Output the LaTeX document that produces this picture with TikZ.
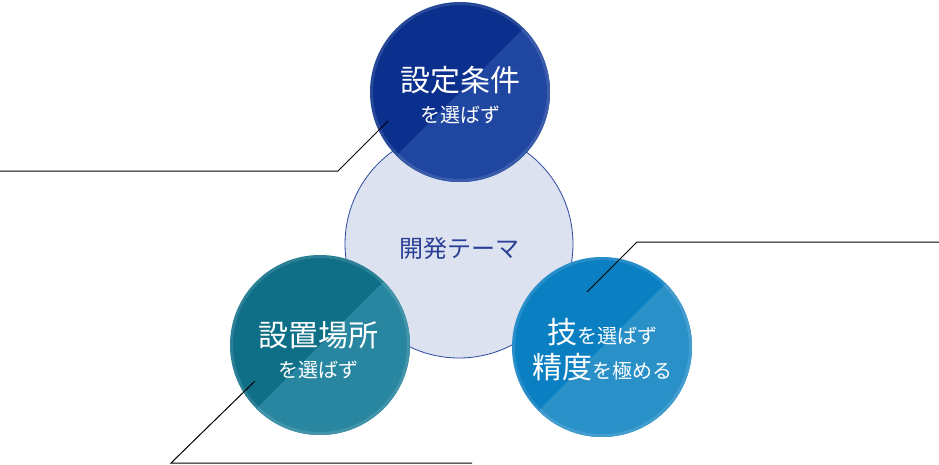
\documentclass[tikz,border=0pt]{standalone}
\usepackage{fontspec}
\newfontfamily\jp{Noto Sans CJK JP}
\definecolor{cdark}{HTML}{0B2F8C}
\definecolor{clight}{HTML}{1F46A0}
\definecolor{tdark}{HTML}{0F6F87}
\definecolor{tlight}{HTML}{2886A0}
\definecolor{bdark}{HTML}{0A7FC2}
\definecolor{blight}{HTML}{2A90C8}
\definecolor{centfill}{HTML}{DDE2F0}
\definecolor{centline}{HTML}{2C48A0}
\definecolor{centtext}{HTML}{2A3F95}
\tikzset{
  big/.style={font=\jp\fontsize{30}{32}\selectfont},
  small/.style={font=\jp\fontsize{20}{22}\selectfont},
  label/.style={text=white, inner sep=0pt, align=center},
  leader/.style={draw=black, line width=1pt},
}
\newcommand{\splitcircle}[3]{%
  \fill[#2] (#1) circle (90pt);
  \begin{scope}
    \clip (#1) circle (90pt);
    \fill[#3] (#1) ++(-200,200) -- ++(400,-400) -- ++(0,400) -- cycle;
  \end{scope}
  \draw[white, opacity=0.12, line width=3pt] (#1) circle (88.5pt);
}
\begin{document}
\begin{tikzpicture}[x=1pt,y=-1pt]
\useasboundingbox (0,0) rectangle (939,464);
\fill[white] (0,0) rectangle (939,464);
% centre circle
\coordinate (cc) at (459,244);
\fill[centfill] (cc) circle (114pt);
\draw[centline, line width=0.8pt] (cc) circle (114pt);
\node[font=\jp\fontsize{24}{26}\selectfont, text=centtext, inner sep=0pt] (theme) at (459,248) {開発テーマ};
% three circles
\coordinate (top) at (460,92);
\coordinate (tl) at (320,345);
\coordinate (br) at (602,347);
\splitcircle{top}{cdark}{clight}
\splitcircle{tl}{tdark}{tlight}
\splitcircle{br}{bdark}{blight}
% texts
\node[label, big] (t1) at (460,80) {設定条件};
\node[label, small] (t1s) at (460,115) {を選ばず};
\node[label, big] (t2) at (318,335) {設置場所};
\node[label, small] (t2s) at (318,370) {を選ばず};
\node[label] (t3) at (602,332) {{\jp\fontsize{30}{32}\selectfont 技}{\jp\fontsize{20}{22}\selectfont を選ばず}};
\node[label] (t3s) at (602,367) {{\jp\fontsize{30}{32}\selectfont 精度}{\jp\fontsize{20}{22}\selectfont を極める}};
% leader lines
\coordinate (a0) at (0,171);
\coordinate (a1) at (338,171);
\coordinate (a2) at (388,121);
\coordinate (b0) at (939,242);
\coordinate (b1) at (637,242);
\coordinate (b2) at (587,292);
\coordinate (c0) at (472,463);
\coordinate (c1) at (171,463);
\coordinate (c2) at (255,381);
\draw[leader] (a0) -- (a1) -- (a2);
\draw[leader] (b0) -- (b1) -- (b2);
\draw[leader] (c0) -- (c1) -- (c2);
\end{tikzpicture}
\end{document}
